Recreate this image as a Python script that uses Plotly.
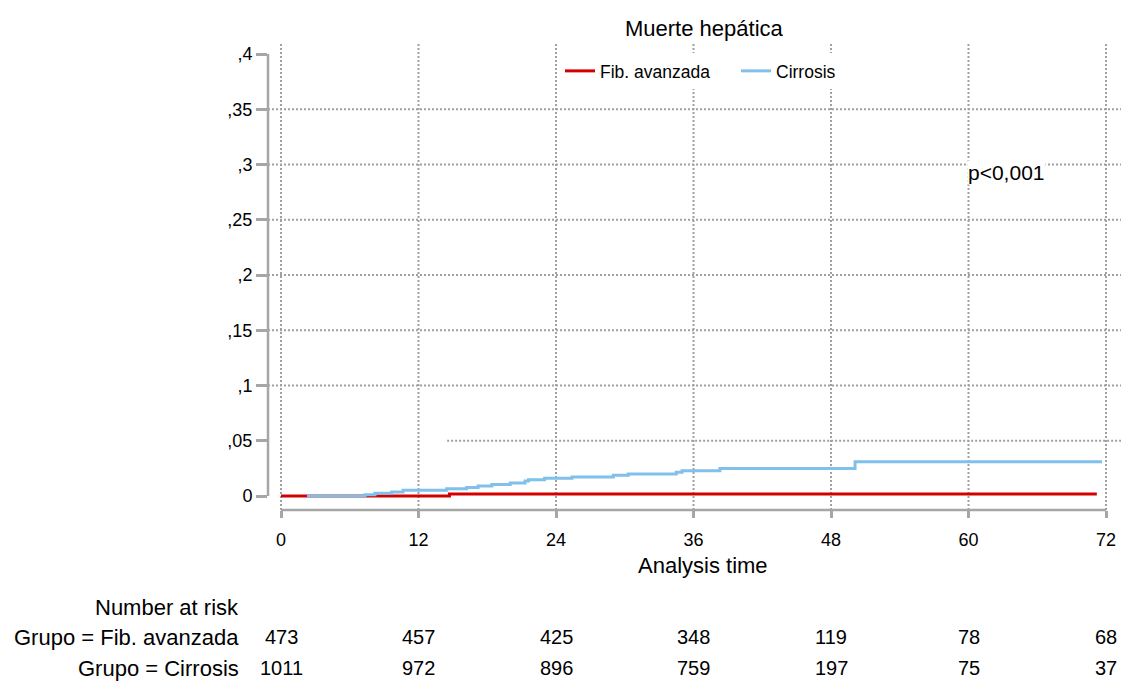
import plotly.graph_objects as go

# ---- data ----
month_ticks = [0, 12, 24, 36, 48, 60, 72]
y_tickvals = [0, 0.05, 0.1, 0.15, 0.2, 0.25, 0.3, 0.35, 0.4]
y_ticktext = ["0", ",05", ",1", ",15", ",2", ",25", ",3", ",35", ",4"]

fib_time = [0, 14.7, 71.2]
fib_cif = [0, 0.0018, 0.0018]

cir_time = [2.27, 7.33, 8.2, 9.66, 10.65, 14.46, 16.2, 17.2, 18.4, 20.0, 21.3,
             21.6, 23.0, 25.4, 29.0, 30.3, 34.5, 35.0, 38.3, 50.1, 71.65]
cir_cif = [0, 0.0012, 0.0024, 0.0036, 0.0052, 0.0066, 0.0078, 0.009, 0.0105,
           0.0118, 0.0136, 0.0147, 0.016, 0.0172, 0.0187, 0.0199, 0.0214,
           0.0229, 0.025, 0.031, 0.031]

group_labels = ["Grupo = Fib. avanzada", "Grupo = Cirrosis"]
risk_fib = [473, 457, 425, 348, 119, 78, 68]
risk_cir = [1011, 972, 896, 759, 197, 75, 37]

title_text = "Muerte hepática"
xlabel = "Analysis time"
pval_text = "p<0,001"

# ---- style ----
FONT = "Liberation Sans, Arial, sans-serif"
AXIS = "#a6a6a6"
GRID = "#a0a0a0"
RED = "#d40000"
BLUE = "#80c0ea"

W, H = 1121, 682
L, R, T, B = 268, 0, 42, 172
x0_px, x72_px = 281, 1106
ppx = (x72_px - x0_px) / 72.0
y0_px, y04_px = 496, 54
ppy = (y0_px - y04_px) / 0.4
xr = [(L - x0_px) / ppx, (W - R - x0_px) / ppx]
yr = [(y0_px - (H - B)) / ppy, (y0_px - T) / ppy]


def px2paper(xp, yp):
    return (xp - L) / (W - L - R), (H - B - yp) / (H - T - B)


fig = go.Figure()
fig.add_trace(go.Scatter(x=fib_time, y=fib_cif, mode="lines", line_shape="hv",
                         line=dict(color=RED, width=3), name="Fib. avanzada"))
fig.add_trace(go.Scatter(x=cir_time, y=cir_cif, mode="lines", line_shape="hv",
                         line=dict(color=BLUE, width=3), name="Cirrosis"))

grid_line = dict(color=GRID, width=2, dash="2px,2px")
shapes = []
for m in month_ticks:
    shapes.append(dict(type="line", xref="x", yref="paper", x0=m, x1=m, y0=0, y1=1,
                       line=grid_line, layer="below"))
for v in y_tickvals[1:-1]:
    if v == 0.05:
        shapes.append(dict(type="line", xref="x", yref="y", x0=14.5, x1=xr[1], y0=v, y1=v,
                           line=grid_line, layer="below"))
    else:
        shapes.append(dict(type="line", xref="paper", yref="y", x0=0, x1=1, y0=v, y1=v,
                           line=grid_line, layer="below"))
shapes.append(dict(type="line", xref="paper", yref="y", x0=0, x1=0,
                   y0=y_tickvals[0], y1=y_tickvals[-1], line=dict(color=AXIS, width=2.5)))
shapes.append(dict(type="line", xref="x", yref="paper", x0=month_ticks[0], x1=month_ticks[-1],
                   y0=0, y1=0, line=dict(color=AXIS, width=2.5)))

annotations = []


def add_text(text, xp, yp, size, xanchor="center"):
    px_, py_ = px2paper(xp, yp)
    annotations.append(dict(text=text, x=px_, y=py_, xref="paper", yref="paper",
                            xanchor=xanchor, yanchor="middle", showarrow=False,
                            font=dict(size=size, color="black", family=FONT)))


add_text(title_text, 704, 28, 22)
add_text(xlabel, 703, 565, 22)
annotations.append(dict(text=pval_text, x=63.3, y=0.293, xref="x", yref="y",
                        xanchor="center", yanchor="middle",
                        showarrow=False, bgcolor="white", borderpad=0,
                        font=dict(size=21, color="black", family=FONT)))

# number at risk table
add_text("Number at risk", 241, 607, 22, xanchor="right")
for lab, row, yp in [(group_labels[0], risk_fib, 637), (group_labels[1], risk_cir, 668)]:
    add_text(lab, 241, yp, 22, xanchor="right")
    _, py_ = px2paper(0, yp)
    for m, n in zip(month_ticks, row):
        annotations.append(dict(text=str(n), x=m, y=py_, xref="x", yref="paper",
                                xanchor="center", yanchor="middle", showarrow=False,
                                font=dict(size=20, color="black", family=FONT)))

lx, ly = px2paper(736, 71)

fig.update_layout(
    width=W, height=H,
    margin=dict(l=L, r=R, t=T, b=B, pad=0),
    paper_bgcolor="white", plot_bgcolor="white",
    font=dict(family=FONT, color="black"),
    showlegend=True,
    legend=dict(orientation="h", x=lx, y=ly, xanchor="center", yanchor="middle",
                bgcolor="white", font=dict(size=17.5, family=FONT, color="black"),
                itemwidth=30, entrywidth=131),
    shapes=shapes,
    annotations=annotations,
    xaxis=dict(range=xr, tickvals=month_ticks, ticktext=[str(m) for m in month_ticks],
               showgrid=False, zeroline=False, showline=False,
               ticks="outside", ticklen=7, tickwidth=2.5, tickcolor=AXIS,
               ticklabelstandoff=6,
               tickfont=dict(size=18, family=FONT, color="black")),
    yaxis=dict(range=yr, tickvals=y_tickvals, ticktext=y_ticktext,
               showgrid=False, zeroline=False, showline=False,
               ticks="outside", ticklen=11, tickwidth=2.5, tickcolor=AXIS,
               tickfont=dict(size=18, family=FONT, color="black")),
)

fig.write_html("out.html", config={"displayModeBar": False},
               post_script="document.body.style.margin='0px';")
